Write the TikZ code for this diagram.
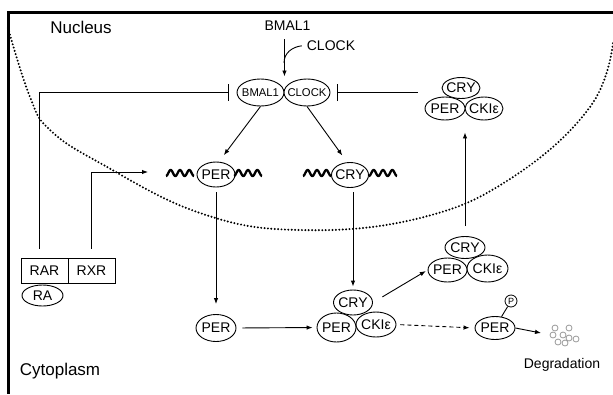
\documentclass[tikz,border=0pt]{standalone}
\usepackage{fontspec}
\setmainfont{Liberation Sans}
\usetikzlibrary{shapes.geometric,arrows.meta}
\begin{document}
\begin{tikzpicture}[x=1pt,y=-1pt,
  ell/.style={draw, ellipse, line width=0.9pt, inner sep=0pt, fill=white},
  lbl/.style={font=\fontsize{14}{16}\selectfont, inner sep=0pt},
  smalllbl/.style={font=\fontsize{11.3}{13}\selectfont, inner sep=0pt},
  big/.style={font=\fontsize{17}{19}\selectfont, inner sep=0pt},
  boxnode/.style={draw, rectangle, line width=0.9pt, inner sep=0pt, minimum width=47pt, minimum height=25pt, font=\fontsize{14}{16}\selectfont},
  arr/.style={-{Latex[length=6pt,width=4.5pt]}, line width=0.9pt},
  inh/.style={-{Bar[width=17pt,line width=1pt]}, line width=0.9pt},
  wave/.style={line width=2.3pt, line join=round},
  dotcurve/.style={line width=2.2pt, dash pattern=on 0pt off 3.4pt, line cap=round},
  degc/.style={draw=gray!80, line width=0.8pt}
]
\useasboundingbox (0,0) rectangle (613,394);
% frame
\draw[line width=3pt, line join=miter] (613,12) -- (8,12) -- (8,394);
% nuclear envelope
\draw[dotcurve] plot[smooth, tension=0.7] coordinates {(8,28) (30,97) (50,130) (100,163) (200,213) (300,230) (420,218) (513,177) (590,107) (613,43)};
% region labels
\node[big, anchor=base] (nuc) at (81,33) {Nucleus};
\node[big, anchor=base] (cyto) at (60,375) {Cytoplasm};
% top inputs
\node[lbl, anchor=base] (bmaltop) at (287.5,30) {BMAL1};
\node[lbl, anchor=base] (clocktop) at (331,50) {CLOCK};
% BMAL1/CLOCK complex
\node[ell, minimum width=47pt, minimum height=27pt, label={[smalllbl]center:BMAL1}] (bmal) at (260.5,92.5) {};
\node[ell, minimum width=46pt, minimum height=27pt, label={[smalllbl]center:CLOCK}] (clock) at (307,92.5) {};
\coordinate (cj) at (284,63);
\draw[arr, shorten <=9pt, shorten >=16pt] (bmal.east |- bmaltop.south) -- (bmal.east);
\draw[line width=0.9pt, shorten <=5pt] (clocktop.west) .. controls (292,47) and (284,53) .. (cj);
% genes
\node[ell, minimum width=38pt, minimum height=25pt, label={[lbl]center:PER}] (perg) at (216,174.5) {};
\node[ell, minimum width=37pt, minimum height=25pt, label={[lbl]center:CRY}] (cryg) at (350,175) {};
\draw[wave] plot[domain=0:28, samples=80] ({166+\x},{173+3*cos(\x*360/9.33)});
\draw[wave] plot[domain=0:28, samples=80] ({234+\x},{173+3*cos(\x*360/9.33)});
\draw[wave] plot[domain=0:28, samples=80] ({303+\x},{173+3*cos(\x*360/9.33)});
\draw[wave] plot[domain=0:28, samples=80] ({369+\x},{173+3*cos(\x*360/9.33)});
\coordinate (rxrin) at (148,172);
% activation arrows
\draw[arr, shorten >=8pt] (bmal.south) -- ([xshift=3pt]perg.north);
\draw[arr, shorten >=8pt] (clock.south) -- ([xshift=-3pt]cryg.north);
% RAR / RXR
\node[boxnode] (rar) at (44.5,270.5) {RAR};
\node[boxnode] (rxr) at (91.5,270.5) {RXR};
\node[ell, minimum width=41pt, minimum height=21pt, label={[lbl]center:RA}] (ra) at (42.5,295.5) {};
\draw[inh, shorten <=9pt, shorten >=8pt] ([xshift=-5.5pt]rar.north) |- (bmal.west);
\draw[arr, shorten <=9pt] (rxr.north) |- (rxrin);
% cytoplasmic PER
\node[ell, minimum width=40pt, minimum height=27pt, label={[lbl]center:PER}] (per) at (216,328) {};
\draw[arr, shorten <=5pt, shorten >=10pt] (perg.south) -- (per.north);
% bottom complex
\node[ell, minimum width=39pt, minimum height=25pt, label={[lbl]center:CRY}] (crb) at (353,302.5) {};
\node[ell, minimum width=40pt, minimum height=25pt, label={[lbl]center:CKI\char"03B5}] (ckib) at (376,324.5) {};
\node[ell, minimum width=39pt, minimum height=29pt, label={[lbl]center:PER}] (perb) at (336.5,327.5) {};
\draw[arr, shorten <=4.5pt, shorten >=3pt] (crb.north |- cryg.south) -- (crb.north);
\draw[arr, shorten <=6pt, shorten >=4pt] (per.east) -- (perb.west);
% middle complex
\node[ell, minimum width=40pt, minimum height=22pt, label={[lbl]center:CRY}] (crm) at (465,247.5) {};
\node[ell, minimum width=41pt, minimum height=27pt, label={[lbl]center:CKI\char"03B5}] (ckim) at (487.5,268.5) {};
\node[ell, minimum width=39pt, minimum height=24pt, label={[lbl]center:PER}] (perm) at (447.5,270) {};
\draw[arr, shorten <=11pt, shorten >=2pt] (crb.east) -- (perm.west);
% top complex
\node[ell, minimum width=38pt, minimum height=21pt, label={[lbl]center:CRY}] (crt) at (461,88) {};
\node[ell, minimum width=38pt, minimum height=23pt, label={[lbl]center:CKI\char"03B5}] (ckit) at (484,108.5) {};
\node[ell, minimum width=40pt, minimum height=23pt, label={[lbl]center:PER}] (pert) at (445,108.5) {};
\draw[arr, shorten <=10pt, shorten >=12pt] (crm.north) -- (crm.north |- pert.south);
\draw[inh, shorten <=24pt, shorten >=7pt] (crt.west |- clock.east) -- (clock.east);
% phosphorylated PER and degradation
\node[ell, minimum width=40pt, minimum height=23pt, label={[lbl]center:PER}] (pper) at (495,328) {};
\node[circle, draw, line width=0.8pt, inner sep=0pt, minimum size=12pt, font=\fontsize{9}{10}\selectfont] (p) at (511,301) {P};
\draw[line width=0.9pt] (p) -- (pper.60);
\draw[arr, dashed, dash pattern=on 4pt off 3pt, shorten <=4pt, shorten >=5pt] (ckib.east) -- (pper.west);
\coordinate (degin) at (541,333);
\draw[arr] (pper.east) -- (degin);
\foreach \cx/\cy in {555/328, 569/328, 553/335, 563/335, 569/338, 576/339, 558/342, 565/343}
  \draw[degc] (\cx,\cy) circle[radius=3pt];
\node[lbl, anchor=base] (deg) at (562,368) {Degradation};
\end{tikzpicture}
\end{document}
